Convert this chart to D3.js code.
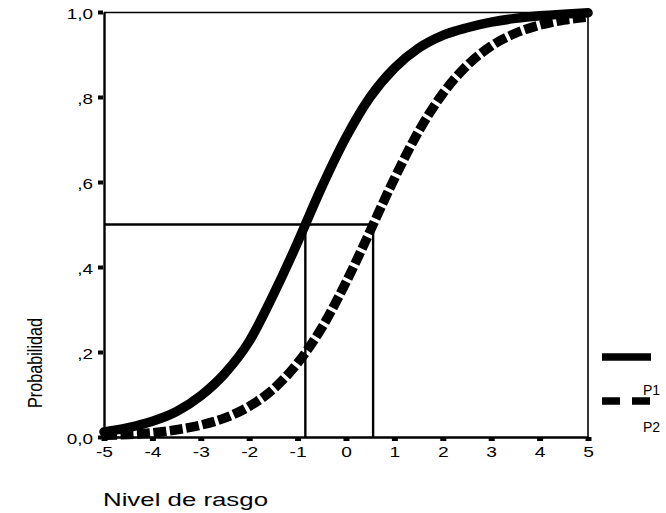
<!DOCTYPE html>
<html>
<head>
<meta charset="utf-8">
<script src="https://cdn.jsdelivr.net/npm/d3@7"></script>
<style>
  html, body { margin: 0; padding: 0; background: #fff; }
  svg text { font-family: "Liberation Sans", Arial, sans-serif; fill: #000; }
</style>
</head>
<body>
<svg id="chart" width="666" height="513"></svg>
<script>
// Trait level (theta) grid shared by both item characteristic curves
const theta = [-5, -4.5, -4, -3.5, -3, -2.5, -2, -1.5, -1, -0.5, 0, 0.5, 1, 1.5, 2, 2.5, 3, 3.5, 4, 4.5, 5];

// Probability of endorsement for each item
const p1Values = [0.012, 0.022, 0.037, 0.060, 0.097, 0.150, 0.225, 0.335, 0.458, 0.588, 0.705, 0.800, 0.868, 0.915, 0.945, 0.963, 0.976, 0.985, 0.991, 0.995, 0.998];
const p2Values = [0.004, 0.006, 0.010, 0.017, 0.028, 0.045, 0.072, 0.113, 0.174, 0.257, 0.364, 0.485, 0.608, 0.719, 0.808, 0.874, 0.920, 0.950, 0.969, 0.981, 0.988];

// Location (theta at P = 0.5) of each item
const itemNames = ["P1", "P2"];
const locations = [-0.84, 0.56];
const halfProb = 0.5;

const xTicks = [-5, -4, -3, -2, -1, 0, 1, 2, 3, 4, 5];
const yTicks = [0, 0.2, 0.4, 0.6, 0.8, 1.0];
const yTickLabels = ["0,0", ",2", ",4", ",6", ",8", "1,0"];

const svg = d3.select("#chart");
const plotLeft = 104, plotRight = 588, plotTop = 12, plotBottom = 437;

const x = d3.scaleLinear().domain([-5, 5]).range([plotLeft, plotRight]);
const y = d3.scaleLinear().domain([0, 1]).range([plotBottom, plotTop]);

// Plot frame
svg.append("line").attr("x1", plotLeft).attr("x2", plotRight).attr("y1", plotTop + 0.5).attr("y2", plotTop + 0.5)
  .attr("stroke", "#000").attr("stroke-width", 1.3);
svg.append("line").attr("x1", plotRight).attr("x2", plotRight).attr("y1", plotTop).attr("y2", plotBottom)
  .attr("stroke", "#000").attr("stroke-width", 1.6);

// Series data with the location points merged in
function series(vals, loc) {
  const pts = theta.map((t, i) => ({ t, p: vals[i] }));
  pts.push({ t: loc, p: halfProb });
  pts.sort((a, b) => a.t - b.t);
  return pts;
}
const s1 = series(p1Values, locations[0]);
const s2 = series(p2Values, locations[1]);

// Reference lines at P = 0.5
const refX = d3.max(locations);
svg.append("line").attr("x1", x(-5)).attr("x2", x(refX)).attr("y1", y(halfProb)).attr("y2", y(halfProb))
  .attr("stroke", "#000").attr("stroke-width", 2.6);
locations.forEach(loc => {
  svg.append("line").attr("x1", x(loc)).attr("x2", x(loc)).attr("y1", y(halfProb)).attr("y2", y(0))
    .attr("stroke", "#000").attr("stroke-width", 2.4);
});

const line = d3.line().x(d => x(d.t)).y(d => y(d.p)).curve(d3.curveMonotoneX);

svg.append("path").datum(s2).attr("d", line)
  .attr("fill", "none").attr("stroke", "#000").attr("stroke-width", 9.5)
  .attr("stroke-dasharray", "13,3.5");
svg.append("path").datum(s1).attr("d", line)
  .attr("fill", "none").attr("stroke", "#000").attr("stroke-width", 9.5)
  .attr("stroke-linecap", "round");

// Axes
const xAxis = d3.axisBottom(x).tickValues(xTicks).tickSize(0).tickPadding(12)
  .tickFormat(d => String(d));
const gx = svg.append("g").attr("transform", `translate(0,${plotBottom})`).call(xAxis);
gx.attr("font-family", null).attr("font-size", null);
gx.select(".domain").attr("stroke", "#000").attr("stroke-width", 2.4);
gx.selectAll(".tick").append("rect").attr("x", -3).attr("y", 0).attr("width", 6).attr("height", 4).attr("fill", "#000");
gx.selectAll(".tick text").attr("font-size", 14).attr("y", 0).attr("dy", 0)
  .attr("transform", "translate(0,20) scale(1.37,1)");

const yAxis = d3.axisLeft(y).tickValues(yTicks).tickSize(0).tickPadding(0)
  .tickFormat((d, i) => yTickLabels[i]);
const gy = svg.append("g").attr("transform", `translate(${plotLeft},0)`).call(yAxis);
gy.attr("font-family", null).attr("font-size", null);
gy.select(".domain").attr("stroke", "#000").attr("stroke-width", 2.4);
gy.selectAll(".tick").append("rect").attr("x", -6).attr("y", -2).attr("width", 5).attr("height", 4).attr("fill", "#000");
gy.selectAll(".tick text").attr("font-size", 14).attr("x", 0).attr("dy", "0.45em")
  .attr("transform", "translate(-11,0) scale(1.35,1)");

// Axis titles
svg.append("text").attr("x", 103).attr("y", 506).attr("font-size", 17.5)
  .attr("textLength", 165).attr("lengthAdjust", "spacingAndGlyphs").text("Nivel de rasgo");
svg.append("text").attr("transform", "translate(41.5,363) rotate(-90)").attr("text-anchor", "middle")
  .attr("font-size", 21).attr("textLength", 90).attr("lengthAdjust", "spacingAndGlyphs").text("Probabilidad");

// Legend
const legendY = [357, 401];
const labelY = [395, 432];
const dashes = [null, "18,12"];
itemNames.forEach((name, i) => {
  const l = svg.append("line").attr("x1", 602).attr("x2", 651).attr("y1", legendY[i]).attr("y2", legendY[i])
    .attr("stroke", "#000").attr("stroke-width", 7.5);
  if (dashes[i]) l.attr("stroke-dasharray", dashes[i]);
  svg.append("text").attr("x", 643).attr("y", labelY[i]).attr("font-size", 14).text(name);
});
</script>
</body>
</html>
